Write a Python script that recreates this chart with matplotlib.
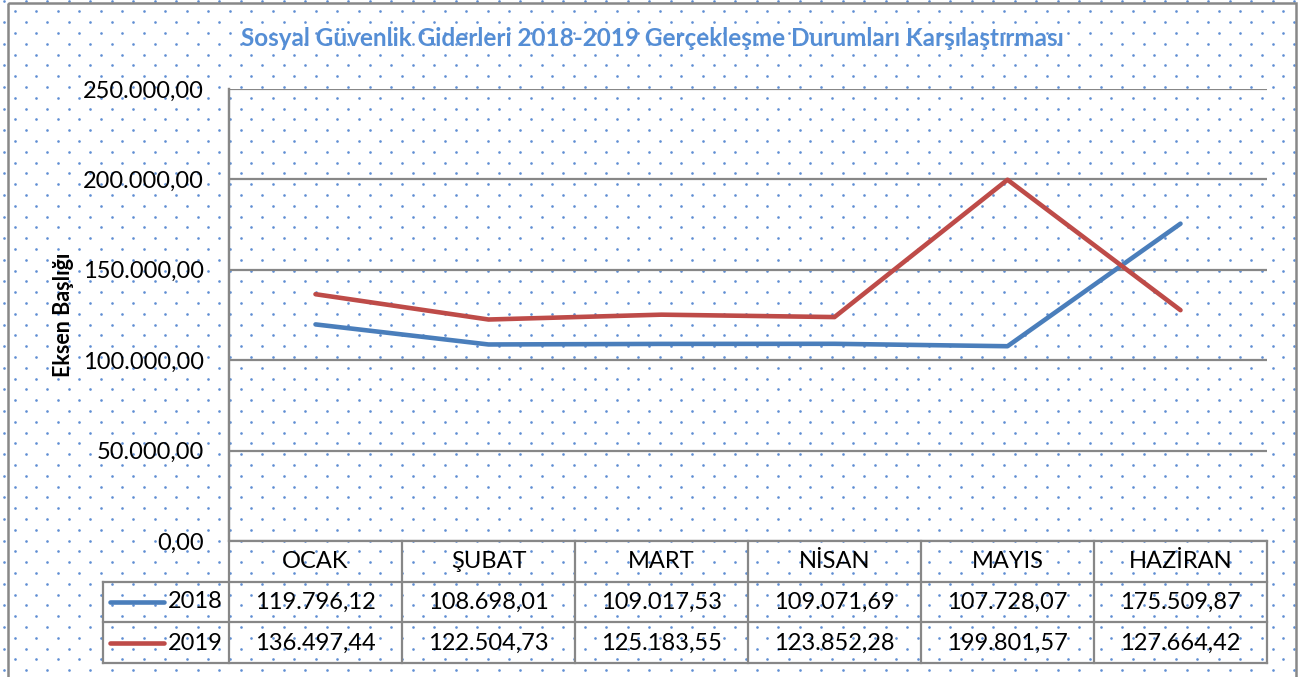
import numpy as np
import matplotlib
matplotlib.use("Agg")
import matplotlib.pyplot as plt
from matplotlib import transforms
from matplotlib.lines import Line2D
from matplotlib.patches import Rectangle

plt.rcParams['font.family'] = ['Lato', 'DejaVu Sans']

title = "Sosyal Güvenlik Giderleri 2018-2019 Gerçekleşme Durumları Karşılaştırması"
months = ["OCAK", "ŞUBAT", "MART", "NİSAN", "MAYIS", "HAZİRAN"]
series_names = ["2018", "2019"]
values_2018 = [119796.12, 108698.01, 109017.53, 109071.69, 107728.07, 175509.87]
values_2019 = [136497.44, 122504.73, 125183.55, 123852.28, 199801.57, 127664.42]
series_values = [values_2018, values_2019]
colors = ["#4A7EBB", "#BE4B48"]
yticks = [0, 50000, 100000, 150000, 200000, 250000]
ylabel = "Eksen Başlığı"


def tr_fmt(v):
    s = f"{v:,.2f}"
    return s.replace(",", "X").replace(".", ",").replace("X", ".")


W, H = 1300, 677
fig = plt.figure(figsize=(W / 100, H / 100), dpi=100)
fig.patch.set_facecolor("white")

# background dotted pattern
bg = fig.add_axes([0, 0, 1, 1], zorder=0)
bg.set_xlim(0, W)
bg.set_ylim(H, 0)
bg.axis("off")
ys = np.arange(0.5, H, 10.8)
pts_x, pts_y = [], []
for i, yy in enumerate(ys):
    off = 4.0 if i % 2 == 0 else 14.75
    xs = np.arange(off, W, 21.5)
    pts_x.extend(xs)
    pts_y.extend([yy] * len(xs))
bg.scatter(pts_x, pts_y, s=3.6, color="#5F8ED3", linewidths=0)
bg.add_patch(Rectangle((8, 3), 1288, 680, fill=False, edgecolor="#888888", linewidth=1.8))

# main axes
L, R, T, B = 229, 1267, 89, 541
ax = fig.add_axes([L / W, (H - B) / H, (R - L) / W, (B - T) / H], zorder=2)
ax.patch.set_alpha(0)
ax.set_xlim(-0.5, len(months) - 0.5)
ax.set_ylim(0, 250000)
ax.set_yticks(yticks)
ax.set_yticklabels([tr_fmt(v) for v in yticks], fontsize=17)
ax.tick_params(axis="y", length=0, pad=18)
ax.set_xticks([])
for s in ["right", "bottom", "top"]:
    ax.spines[s].set_visible(False)
ax.spines["left"].set_color("#878787")
ax.spines["left"].set_linewidth(1.6)
ax.grid(axis="y", color="#878787", linewidth=1.6)
ax.set_axisbelow(True)
ax.set_ylabel(ylabel, fontsize=15.5, fontweight="bold")
ax.yaxis.set_label_coords((74 - L) / (R - L), 0.5)

x = np.arange(len(months))
for vals, c in zip(series_values, colors):
    ax.plot(x, vals, color=c, linewidth=3.3, solid_capstyle="round", zorder=3)

fig.text(652 / W, 1 - 38 / H, title, ha="center", va="center",
         fontsize=17.5, fontweight="bold", color="#558ED5")

# data table
tr = transforms.blended_transform_factory(ax.transData, ax.transAxes)
def yf(p):
    return (B - p) / (B - T)

leg_left = -0.5 - (L - 103) / ((R - L) / len(months))
gc = "#878787"
lw = 1.6
rows = [541, 582, 622, 663]
for i, p in enumerate(rows):
    x0 = -0.5 if i == 0 else leg_left
    ax.add_line(Line2D([x0, len(months) - 0.5], [yf(p), yf(p)], transform=tr,
                       color=gc, linewidth=lw, clip_on=False))
for k in range(len(months) + 1):
    top = T if k == 0 else 541
    ax.add_line(Line2D([k - 0.5, k - 0.5], [yf(top), yf(663)], transform=tr,
                       color=gc, linewidth=lw, clip_on=False))
ax.add_line(Line2D([leg_left, leg_left], [yf(582), yf(663)], transform=tr,
                   color=gc, linewidth=lw, clip_on=False))

px_unit = (R - L) / len(months)
for i, m in enumerate(months):
    ax.text(i, yf(562), m, transform=tr, ha="center", va="center", fontsize=17)
row_centers = [602, 643]
for name, vals, c, yc in zip(series_names, series_values, colors, row_centers):
    lx0 = -0.5 - (L - 110) / px_unit
    lx1 = -0.5 - (L - 164) / px_unit
    ax.add_line(Line2D([lx0, lx1], [yf(yc), yf(yc)], transform=tr, color=c,
                       linewidth=3.3, solid_capstyle="round", clip_on=False))
    ax.text(-0.5 - (L - 168) / px_unit, yf(yc), name, transform=tr,
            ha="left", va="center", fontsize=17)
    for i, v in enumerate(vals):
        ax.text(i, yf(yc), tr_fmt(v), transform=tr, ha="center", va="center",
                fontsize=17)

fig.savefig("out.png", dpi=100)
